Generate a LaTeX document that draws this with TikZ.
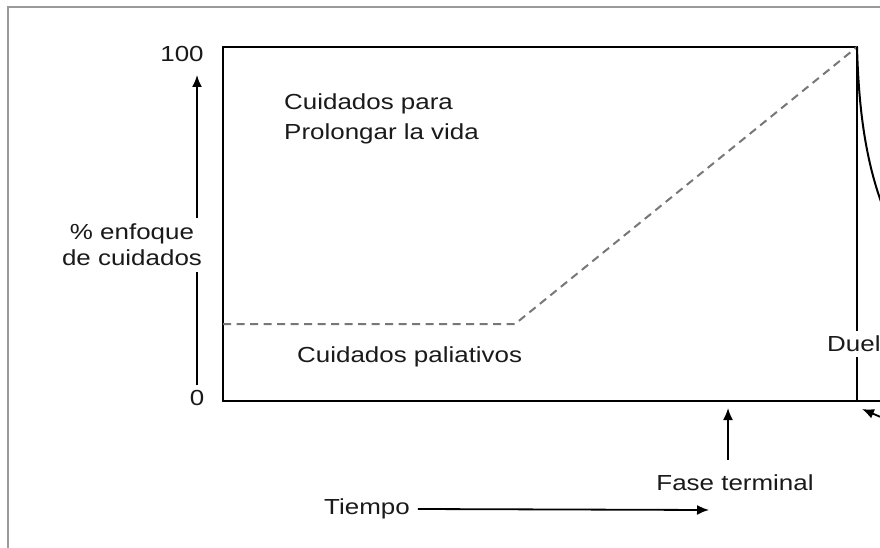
\documentclass[tikz,border=0pt]{standalone}
\usepackage{fontspec}
\setmainfont[FakeStretch=1.19]{Liberation Sans}
\usetikzlibrary{arrows.meta}
\definecolor{txt}{HTML}{1A1A1A}
\definecolor{frame}{HTML}{9A9A9A}
\definecolor{dash}{HTML}{777777}
\tikzset{
  lbl/.style={font=\fontsize{21.8}{26}\selectfont, text=txt, inner sep=0pt},
  boxline/.style={line width=2pt, draw=black},
  arr/.style={line width=1.8pt, -{Latex[length=12pt,width=10pt]}},
  dashline/.style={line width=2pt, draw=dash, dash pattern=on 8pt off 5.5pt},
}
\begin{document}
\begin{tikzpicture}[x=1pt,y=-1pt]
\useasboundingbox (0,0) rectangle (880,548);
\clip (0,0) rectangle (880,548);
\fill[white] (0,0) rectangle (880,548);
% outer frame
\draw[frame, line width=2.5pt] (8,548) -- (8,7) -- (885,7);
% main box
\coordinate (tl) at (223,47);
\coordinate (tr) at (857,47);
\coordinate (bl) at (223,401);
\coordinate (br) at (857,401);
\coordinate (xend) at (885,401);
\draw[boxline] (br) -- (tr) -- (tl) -- (bl) -- (xend);
% dashed line
\coordinate (d0) at (223,324);
\coordinate (d1) at (515,324);
\draw[dashline] (d0) -- (d1) -- (tr);
% curve (Duelo)
\coordinate (c1) at (895,235);
\draw[line width=2pt] (tr) .. controls (859,120) and (868,180) .. (c1);
% y axis
\coordinate (y0) at (197,385);
\coordinate (y100) at (197,75);
\draw[arr] (y0) -- (y100);
\node[lbl] (n100) at (182,54) {100};
\node[lbl] (n0) at (197,398) {0};
\node[lbl, align=center, fill=white, inner sep=6pt] (ylab) at (132,245) {\% enfoque\\de cuidados};
% labels in box
\node[lbl, align=left, anchor=west, font=\fontsize{21.8}{30}\selectfont] (prol) at (284,119) {Cuidados para\\Prolongar la vida};
\node[lbl, anchor=west] (pal) at (297,357) {Cuidados paliativos};
\node[lbl, anchor=west, fill=white, inner sep=5pt] (duel) at (822,344) {Duel};
% bottom arrow at right
\coordinate (ba0) at (890,421);
\coordinate (ba1) at (862,409);
\draw[arr] (ba0) -- (ba1);
% Fase terminal
\node[lbl] (fase) at (735,483) {Fase terminal};
\coordinate (ftip) at (728,408);
\draw[arr] (728,460) -- (ftip);
% Tiempo
\node[lbl] (tiempo) at (367,509) {Tiempo};
\coordinate (ttip) at (709,510);
\draw[arr] (tiempo.east) ++(8,0) -- (ttip);
\end{tikzpicture}
\end{document}
